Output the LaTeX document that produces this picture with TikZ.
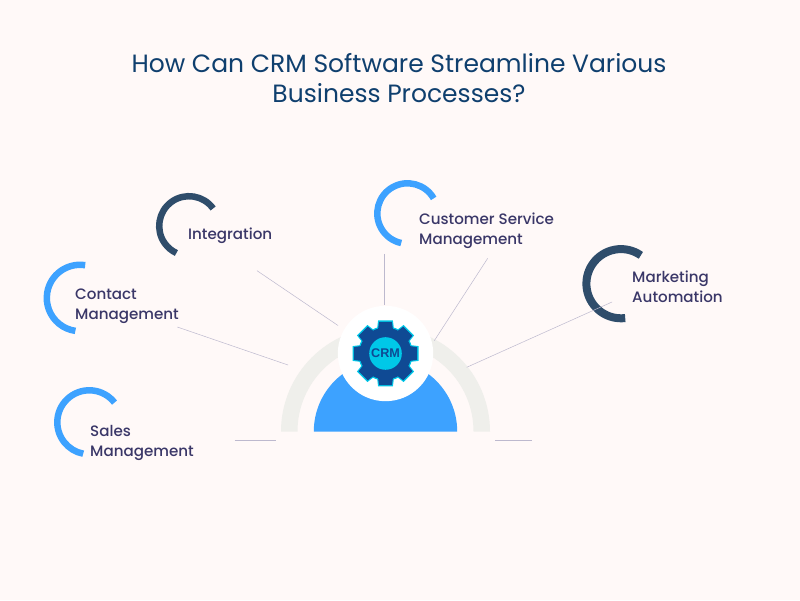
\documentclass[tikz,border=0pt]{standalone}
\usepackage{fontspec}
\setmainfont{Poppins}
\setsansfont{Liberation Sans}
\newfontfamily\moyen{Poppins Medium}
\definecolor{fond}{HTML}{FFF9F8}
\definecolor{titre}{HTML}{0F3F6E}
\definecolor{encre}{HTML}{3A3768}
\definecolor{bleu}{HTML}{3DA2FF}
\definecolor{ardoise}{HTML}{2F4D6B}
\definecolor{gris}{HTML}{EFEFEB}
\definecolor{trait}{HTML}{BDB9CE}
\definecolor{roue}{HTML}{0F4A94}
\definecolor{cyan}{HTML}{00C8E8}
\tikzset{
	titreN/.style={text=titre,font=\fontsize{25}{30}\selectfont,align=center,inner sep=0pt},
	etiquette/.style={text=encre,font=\moyen\fontsize{15.1}{20}\selectfont,align=left,anchor=west,inner sep=0pt},
	rayon/.style={trait,line width=0.5pt},
}
\begin{document}
\begin{tikzpicture}[x=1pt,y=1pt]
	\fill[fond] (0,0) rectangle (800,600);
	\useasboundingbox (0,0) rectangle (800,600);
	\def\CentreX{385.5}
	\def\CentreY{246.5}
	% title
	\node[titreN] (Titre) at (399,522) {How Can CRM Software Streamline Various\\Business Processes?};
	% half rings
	\fill[gris] (\CentreX-104.5,168.5) arc[start angle=180,end angle=0,radius=104.5]
		-- (\CentreX+88,168.5) arc[start angle=0,end angle=180,radius=88] -- cycle;
	\fill[bleu] (\CentreX-71.7,168.5) arc[start angle=180,end angle=0,radius=71.7] -- cycle;
	\node[circle,fill=white,minimum size=95.4pt,inner sep=0pt] (Moyeu) at (\CentreX,\CentreY) {};
	% gear
	\foreach \a in {0,45,...,315} {
		\fill[cyan,rotate around={\a:(Moyeu.center)},shift={(Moyeu.center)}] (-8.6,23) -- (-7.4,33) -- (7.4,33) -- (8.6,23) -- cycle;
	}
	\fill[cyan] (Moyeu.center) circle (27.3);
	\foreach \a in {0,45,...,315} {
		\fill[roue,rotate around={\a:(Moyeu.center)},shift={(Moyeu.center)}] (-7.6,23) -- (-6.4,31.6) -- (6.4,31.6) -- (7.6,23) -- cycle;
	}
	\fill[roue] (Moyeu.center) circle (26);
	\node[circle,fill=cyan,minimum size=32.6pt,inner sep=0pt,text=roue,font=\sffamily\bfseries\fontsize{12.6}{12.6}\selectfont] (Crm) at (Moyeu.center) {CRM};
	% arcs
	\coordinate (ArcI) at (189,374);
	\coordinate (ArcC) at (80,302);
	\coordinate (ArcS) at (407.5,386.5);
	\coordinate (ArcM) at (621,316.3);
	\coordinate (ArcV) at (89.3,177.7);
	\draw[ardoise,line width=6.5pt] (ArcI) ++(36:29.8) arc[start angle=36,end angle=245,radius=29.8];
	\draw[bleu,line width=6.5pt] (ArcC) ++(81:33.2) arc[start angle=81,end angle=262,radius=33.2];
	\draw[bleu,line width=6.5pt] (ArcS) ++(30:30.2) arc[start angle=30,end angle=258,radius=30.2];
	\draw[ardoise,line width=8pt] (ArcM) ++(55:34.6) arc[start angle=55,end angle=277,radius=34.6];
	\draw[bleu,line width=6.5pt] (ArcV) ++(38:32) arc[start angle=38,end angle=259,radius=32];
	% labels
	\node[etiquette] (Integration) at (188,364.5) {Integration};
	\node[etiquette] (Contact) at (75,293.5) {Contact\\Management};
	\node[etiquette] (Service) at (419,369.5) {Customer Service\\Management};
	\node[etiquette] (Marketing) at (632,313.5) {Marketing\\Automation};
	\node[etiquette] (Ventes) at (90,157) {Sales\\Management};
	% free ends of the rays
	\coordinate (a1) at (257,329.3);
	\coordinate (b1) at (338,274.5);
	\coordinate (a2) at (177.3,273);
	\coordinate (b2) at (288,235);
	\coordinate (a3) at (384.5,346);
	\coordinate (b3) at (384.5,295);
	\coordinate (a4) at (487.7,341.7);
	\coordinate (b4) at (434.3,259.3);
	\coordinate (a5) at (612,298);
	\coordinate (b5) at (466.7,232.7);
	\coordinate (a6) at (234.7,159.7);
	\coordinate (b6) at (275.7,159.7);
	\coordinate (a7) at (495,160);
	\coordinate (b7) at (531.7,160);
	\foreach \i in {1,...,7} {
		\draw[rayon] (a\i)--(b\i);
	}
\end{tikzpicture}
\end{document}
